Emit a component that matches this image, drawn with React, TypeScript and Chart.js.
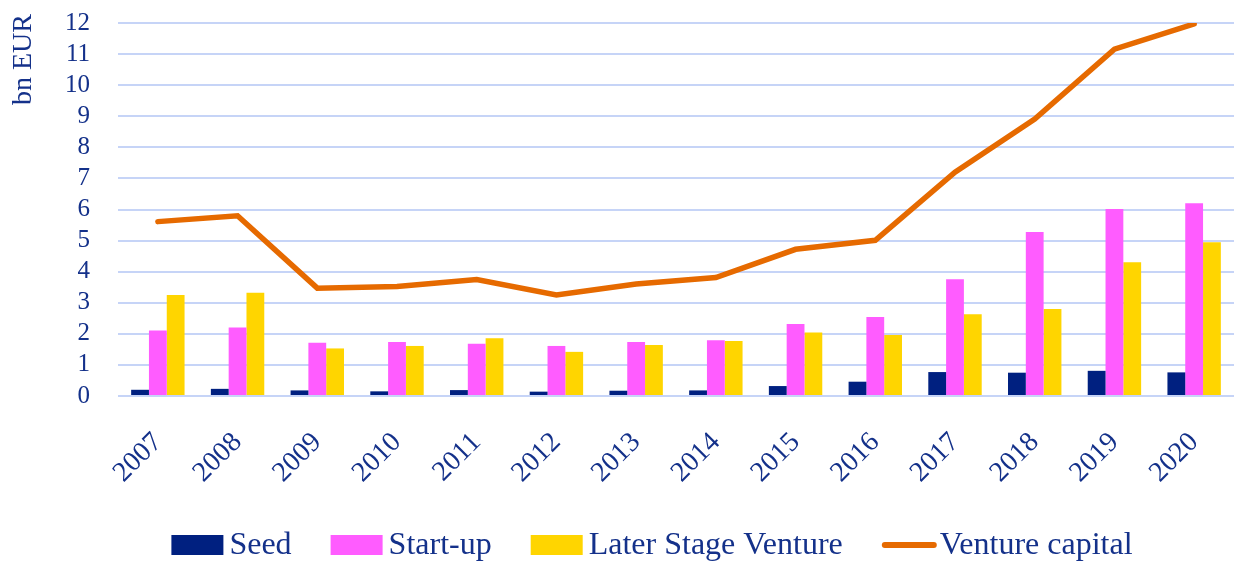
import React, { useEffect, useRef } from "react";
import { Chart, registerables } from "chart.js";

Chart.register(...registerables);

const years = ["2007", "2008", "2009", "2010", "2011", "2012", "2013", "2014", "2015", "2016", "2017", "2018", "2019", "2020"];
const seed = [0.2, 0.23, 0.18, 0.15, 0.19, 0.14, 0.17, 0.18, 0.32, 0.46, 0.77, 0.75, 0.81, 0.76];
const startUp = [2.11, 2.2, 1.71, 1.74, 1.68, 1.61, 1.74, 1.79, 2.32, 2.54, 3.76, 5.28, 6.02, 6.2];
const laterStage = [3.25, 3.32, 1.53, 1.61, 1.86, 1.42, 1.64, 1.77, 2.04, 1.96, 2.63, 2.8, 4.3, 4.95];
const ventureCapital = [5.61, 5.8, 3.47, 3.52, 3.75, 3.25, 3.6, 3.81, 4.72, 5.01, 7.2, 8.91, 11.16, 11.97];
const yTicks = [0, 1, 2, 3, 4, 5, 6, 7, 8, 9, 10, 11, 12];

const TEXT = "#14318a";
const FONT = "'Liberation Serif', serif";

const yTitlePlugin = {
  id: "yTitle",
  afterDraw(chart: any) {
    const ctx = chart.ctx;
    ctx.save();
    ctx.translate(24, 14);
    ctx.rotate(-Math.PI / 2);
    ctx.font = `28px ${FONT}`;
    ctx.fillStyle = TEXT;
    ctx.textAlign = "right";
    ctx.textBaseline = "middle";
    ctx.fillText("bn EUR", 0, 0);
    ctx.restore();
  },
};

const legendPlugin = {
  id: "customLegend",
  afterDraw(chart: any) {
    const ctx = chart.ctx;
    const ds = chart.data.datasets;
    ctx.save();
    ctx.font = `32px ${FONT}`;
    const boxW = 52;
    const gap = 6;
    const itemGap = 39;
    const widths = ds.map((d: any) => boxW + gap + ctx.measureText(d.label).width);
    const total = widths.reduce((a: number, b: number) => a + b, 0) + itemGap * (ds.length - 1);
    let x = 652 - total / 2;
    const cy = 545;
    ds.forEach((d: any, i: number) => {
      if (d.type === "line") {
        ctx.strokeStyle = d.borderColor;
        ctx.lineWidth = 6;
        ctx.lineCap = "round";
        ctx.beginPath();
        ctx.moveTo(x + 3, cy);
        ctx.lineTo(x + boxW, cy);
        ctx.stroke();
      } else {
        ctx.fillStyle = d.backgroundColor;
        ctx.fillRect(x, cy - 10, boxW, 20);
      }
      ctx.fillStyle = TEXT;
      ctx.textAlign = "left";
      ctx.textBaseline = "middle";
      ctx.fillText(d.label, x + boxW + gap, cy + 1);
      x += widths[i] + itemGap;
    });
    ctx.restore();
  },
};

export default function App() {
  const ref = useRef<HTMLCanvasElement>(null);
  useEffect(() => {
    document.body.style.margin = "0";
    const chart = new Chart(ref.current as HTMLCanvasElement, {
      type: "bar",
      data: {
        labels: years,
        datasets: [
          { type: "bar", label: "Seed", data: seed, backgroundColor: "#002080", categoryPercentage: 0.67, barPercentage: 1 },
          { type: "bar", label: "Start-up", data: startUp, backgroundColor: "#ff5cff", categoryPercentage: 0.67, barPercentage: 1 },
          { type: "bar", label: "Later Stage Venture", data: laterStage, backgroundColor: "#ffd500", categoryPercentage: 0.67, barPercentage: 1 },
          {
            type: "line",
            label: "Venture capital",
            data: ventureCapital,
            borderColor: "#e66a00",
            backgroundColor: "#e66a00",
            borderWidth: 5.5,
            pointRadius: 0,
            borderCapStyle: "round",
            tension: 0,
          },
        ] as any,
      },
      options: {
        animation: false,
        responsive: false,
        maintainAspectRatio: false,
        layout: { padding: { top: 23, left: 0, right: 0, bottom: 0 } },
        plugins: {
          tooltip: { enabled: false },
          legend: { display: false },
        },
        scales: {
          x: {
            grid: { display: false, drawTicks: false },
            border: { display: false },
            ticks: {
              color: TEXT,
              font: { family: FONT, size: 28 },
              maxRotation: 45,
              minRotation: 45,
              padding: 30,
              autoSkip: false,
            },
            afterFit(scale: any) {
              scale.height = 166;
              scale.paddingLeft = 0;
              scale.paddingRight = 0;
            },
          },
          y: {
            min: 0,
            max: 12,
            afterBuildTicks(scale: any) {
              scale.ticks = yTicks.map((v) => ({ value: v }));
            },
            grid: { color: "#c6d4f7", lineWidth: 2, drawTicks: false },
            border: { display: false },
            ticks: {
              color: TEXT,
              font: { family: FONT, size: 25 },
              padding: 28,
              autoSkip: false,
            },
            afterFit(scale: any) {
              scale.width = 118;
              scale.paddingTop = 0;
              scale.paddingBottom = 0;
            },
          },
        },
      } as any,
      plugins: [yTitlePlugin, legendPlugin],
    });
    return () => chart.destroy();
  }, []);
  return <canvas ref={ref} width={1234} height={562} style={{ display: "block" }} />;
}
